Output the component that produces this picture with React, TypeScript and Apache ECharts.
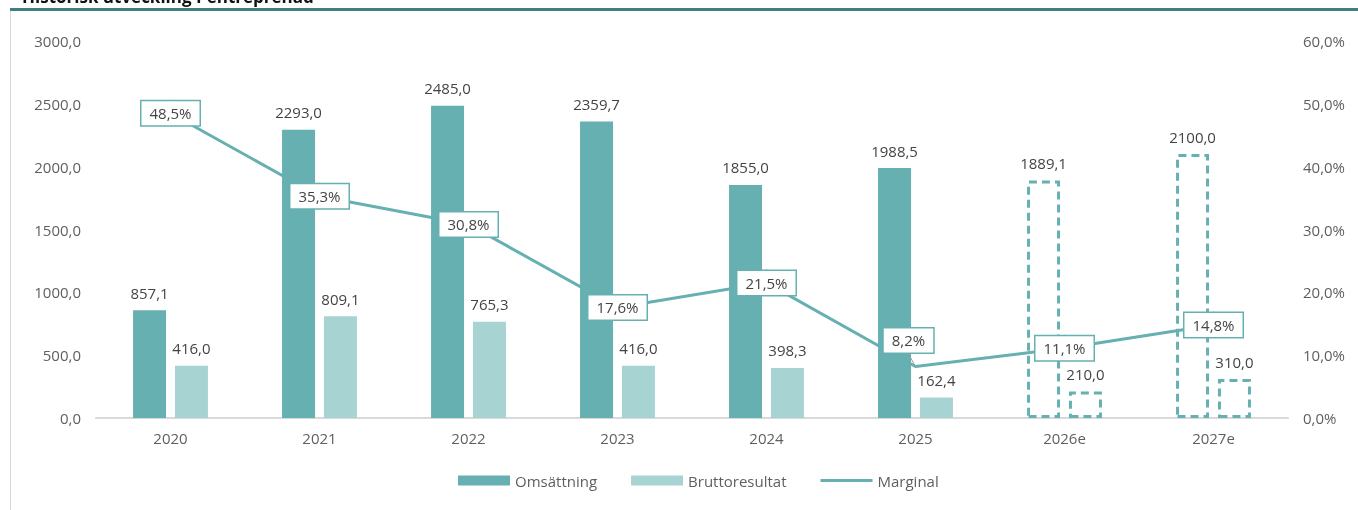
import React, { useEffect, useRef } from "react";
import * as echarts from "echarts";

const categories = ["2020", "2021", "2022", "2023", "2024", "2025", "2026e", "2027e"];
const omsattning = [857.1, 2293.0, 2485.0, 2359.7, 1855.0, 1988.5, 1889.1, 2100.0];
const bruttoresultat = [416.0, 809.1, 765.3, 416.0, 398.3, 162.4, 210.0, 310.0];
const marginal = [48.5, 35.3, 30.8, 17.6, 21.5, 8.2, 11.1, 14.8];
const forecastFrom = 6;
const title = "Historisk utveckling Pentreprenad";

const DARK = "#66b0b1";
const LIGHT = "#a8d3d3";
const TEXT = "#5f5f5f";
const LABEL = "#444";
const FONT = "Open Sans";

const fmt = (v: number) => v.toFixed(1).replace(".", ",");

export default function App() {
  const ref = useRef<HTMLDivElement>(null);
  useEffect(() => {
    if (!ref.current) return;
    const chart = echarts.init(ref.current, undefined, { renderer: "svg" });
    const dashed = () => ({
      color: "rgba(255,255,255,0)",
      borderColor: DARK,
      borderWidth: 3,
      borderType: [8, 5] as any,
    });
    const option: any = {
      animation: false,
      textStyle: { fontFamily: FONT },
      graphic: [
        { type: "rect", shape: { x: 10, y: 8, width: 1348, height: 3 }, style: { fill: "#3f7f80" } },
        { type: "rect", shape: { x: 10, y: 11, width: 1, height: 500 }, style: { fill: "#d9d9d9" } },
        {
          type: "text",
          x: 22,
          y: 5,
          style: {
            text: title,
            fontFamily: FONT,
            fontWeight: "bold",
            fontSize: 17,
            fill: "#111",
            textVerticalAlign: "bottom",
          },
        },
      ],
      legend: {
        bottom: 17,
        left: 453,
        itemWidth: 52,
        itemHeight: 10,
        itemGap: 34,
        textStyle: { color: TEXT, fontSize: 15, fontFamily: FONT },
        data: [
          { name: "Omsättning", icon: "rect" },
          { name: "Bruttoresultat", icon: "rect" },
          { name: "Marginal", icon: "path://M0,0 L52,0 L52,3 L0,3 Z" },
        ],
      },
      grid: { left: 96, right: 70, top: 41, bottom: 92, containLabel: false },
      xAxis: {
        type: "category",
        data: categories,
        axisLine: { lineStyle: { color: "#d9d9d9", width: 2 } },
        axisTick: { show: false },
        axisLabel: { color: TEXT, fontSize: 15, margin: 12 },
      },
      yAxis: [
        {
          type: "value",
          min: 0,
          max: 3000,
          interval: 500,
          splitLine: { show: false },
          axisLine: { show: false },
          axisLabel: { color: TEXT, fontSize: 15, margin: 15, formatter: (v: number) => fmt(v) },
        },
        {
          type: "value",
          min: 0,
          max: 60,
          interval: 10,
          splitLine: { show: false },
          axisLine: { show: false },
          axisLabel: { color: TEXT, fontSize: 15, margin: 15, formatter: (v: number) => fmt(v) + "%" },
        },
      ],
      series: [
        {
          name: "Omsättning",
          type: "bar",
          barWidth: 33,
          barGap: "27%",
          itemStyle: { color: DARK },
          label: { show: true, position: "top", distance: 10, color: LABEL, fontSize: 15, formatter: (p: any) => fmt(p.value) },
          data: omsattning.map((v, i) => (i >= forecastFrom ? { value: v, itemStyle: dashed() } : v)),
        },
        {
          name: "Bruttoresultat",
          type: "bar",
          barWidth: 33,
          barGap: "27%",
          itemStyle: { color: LIGHT },
          label: { show: true, position: "top", distance: 10, color: LABEL, fontSize: 15, formatter: (p: any) => fmt(p.value) },
          data: bruttoresultat.map((v, i) => (i >= forecastFrom ? { value: v, itemStyle: dashed() } : v)),
        },
        {
          name: "Marginal",
          type: "line",
          yAxisIndex: 1,
          symbol: "circle",
          symbolSize: 1,
          showSymbol: true,
          lineStyle: { color: DARK, width: 3 },
          itemStyle: { color: DARK },
          z: 5,
          label: {
            show: true,
            position: "inside",
            color: LABEL,
            fontSize: 15,
            backgroundColor: "#fff",
            borderColor: DARK,
            borderWidth: 1.5,
            padding: [5, 8, 4, 8],
            formatter: (p: any) => fmt(p.value) + "%",
          },
          labelLine: { show: true, lineStyle: { color: "#999", width: 1 } },
          labelLayout: (p: any) => (p.dataIndex === 5 ? { dx: -7, dy: -26 } : {}),
          data: marginal,
        },
      ],
    };
    chart.setOption(option);
    return () => chart.dispose();
  }, []);
  return <div ref={ref} style={{ position: "fixed", left: 0, top: 0, width: 1358, height: 510 }} />;
}
